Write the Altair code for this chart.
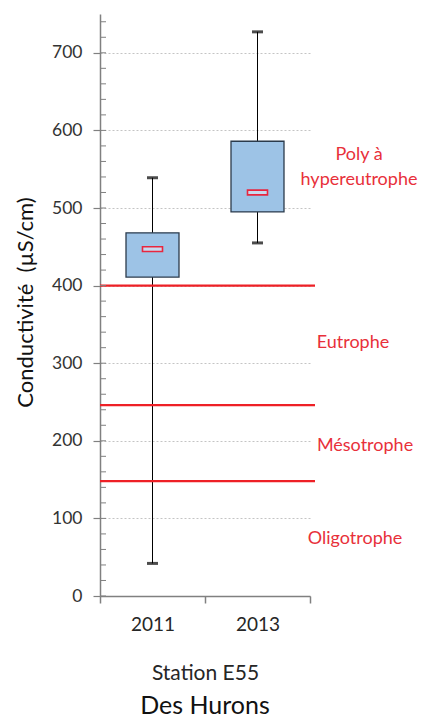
import altair as alt
import pandas as pd

# ---- data ----
years = ["2011", "2013"]
whisker_min = [42, 455]
q1 = [411, 495]
q3 = [468, 586]
whisker_max = [539, 727]
means = [447, 520]

thresholds = [400, 246, 148]

zone_text = ["Poly à", "hypereutrophe", "Eutrophe", "Mésotrophe", "Oligotrophe"]
zone_y = [568, 536, 326, 193, 73]

y_major = [0, 100, 200, 300, 400, 500, 600, 700]
y_minor = [0, 20, 40, 60, 80, 100, 120, 140, 160, 180, 200, 220, 240, 260, 280,
           300, 320, 340, 360, 380, 400, 420, 440, 460, 480, 500, 520, 540, 560,
           580, 600, 620, 640, 660, 680, 700, 720, 740]

box_df = pd.DataFrame({"year": years, "min": whisker_min, "q1": q1, "q3": q3,
                       "max": whisker_max, "mean": means})
thr_df = pd.DataFrame({"v": thresholds})
zone_df = pd.DataFrame({"t": zone_text, "y": zone_y})
minor_df = pd.DataFrame({"v": y_minor})

FONT = "Lato"
RED_LINE = "#ee2026"
RED_TEXT = "#e8303a"

x_enc = alt.X("year:N", title="Station E55",
              scale=alt.Scale(paddingInner=0, paddingOuter=0),
              axis=alt.Axis(labelAngle=0, tickBand="extent", tickSize=7,
                            tickColor="#808080", domainColor="#808080",
                            domainWidth=1.5, tickWidth=1.5,
                            labelFontSize=19, labelColor="#262626",
                            labelPadding=12, titleFontSize=21,
                            titleFontWeight="normal", titleColor="#262626",
                            titlePadding=28, grid=False))

y_scale = alt.Scale(domain=[0, 750], nice=False)
y_enc_axis = alt.Axis(values=y_major, tickSize=7, tickColor="#808080",
                      tickWidth=1.2, domainColor="#808080", domainWidth=1.5,
                      labelFontSize=17.5, labelColor="#333333", labelPadding=11,
                      grid=True, gridColor="#c4c4c4", gridDash=[2, 2],
                      gridWidth=1,
                      title="Conductivité\u00a0 (µS/cm)", titleFontSize=22,
                      titleFontWeight="normal", titleColor="#111111",
                      titleX=-75, titleY=288, titleAlign="center",
                      titleBaseline="middle")

base = alt.Chart(box_df)

whisker = base.mark_rule(color="black", strokeWidth=1).encode(
    x=x_enc,
    y=alt.Y("min:Q", scale=y_scale, axis=y_enc_axis),
    y2="max:Q",
)

box = base.mark_bar(size=53, fill="#9dc3e6", stroke="#2b3b4c",
                    strokeWidth=1.3).encode(
    x="year:N", y="q1:Q", y2="q3:Q")

cap_top = base.mark_tick(color="black", size=11, thickness=3,
                         orient="horizontal").encode(x="year:N", y="max:Q")
cap_bot = base.mark_tick(color="black", size=11, thickness=3,
                         orient="horizontal").encode(x="year:N", y="min:Q")

mean_mark = base.mark_point(shape="M-1,-0.24L1,-0.24L1,0.24L-1,0.24Z",
                            size=400, filled=False, fill="#c8d9ee",
                            fillOpacity=1, stroke="#e8263f", strokeWidth=1.6,
                            opacity=1).encode(x="year:N", y="mean:Q")

thr = alt.Chart(thr_df).mark_rule(color=RED_LINE, strokeWidth=2.2).encode(
    y="v:Q", x=alt.value(0), x2=alt.value(215))

minor = alt.Chart(minor_df).mark_rule(color="#808080", strokeWidth=1).encode(
    y="v:Q", x=alt.value(0), x2=alt.value(6))

# horizontal placement of each zone label (pixels from the plot's left edge)
label_x = {"Poly à": 259, "hypereutrophe": 259, "Eutrophe": 253,
           "Mésotrophe": 265, "Oligotrophe": 255}

zone_layers = []
for name, px in label_x.items():
    zone_layers.append(
        alt.Chart(zone_df).transform_filter(alt.datum.t == name)
        .mark_text(font=FONT, fontSize=18, color=RED_TEXT, align="center",
                   baseline="middle")
        .encode(y="y:Q", x=alt.value(px), text="t:N")
    )

chart = alt.layer(whisker, thr, box, cap_top, cap_bot, mean_mark, minor,
                  *zone_layers).properties(
    width=210, height=582,
    autosize=alt.AutoSizeParams(type="none"),
    padding={"left": 100, "top": 14, "right": 111, "bottom": 129},
    title=alt.TitleParams("Des Hurons", orient="bottom", fontSize=25,
                          fontWeight="normal", color="#111111", font=FONT,
                          offset=11, anchor="middle"),
).configure(font=FONT).configure_view(stroke=None)

chart.save("out.html", embed_options={"renderer": "svg", "actions": False})
